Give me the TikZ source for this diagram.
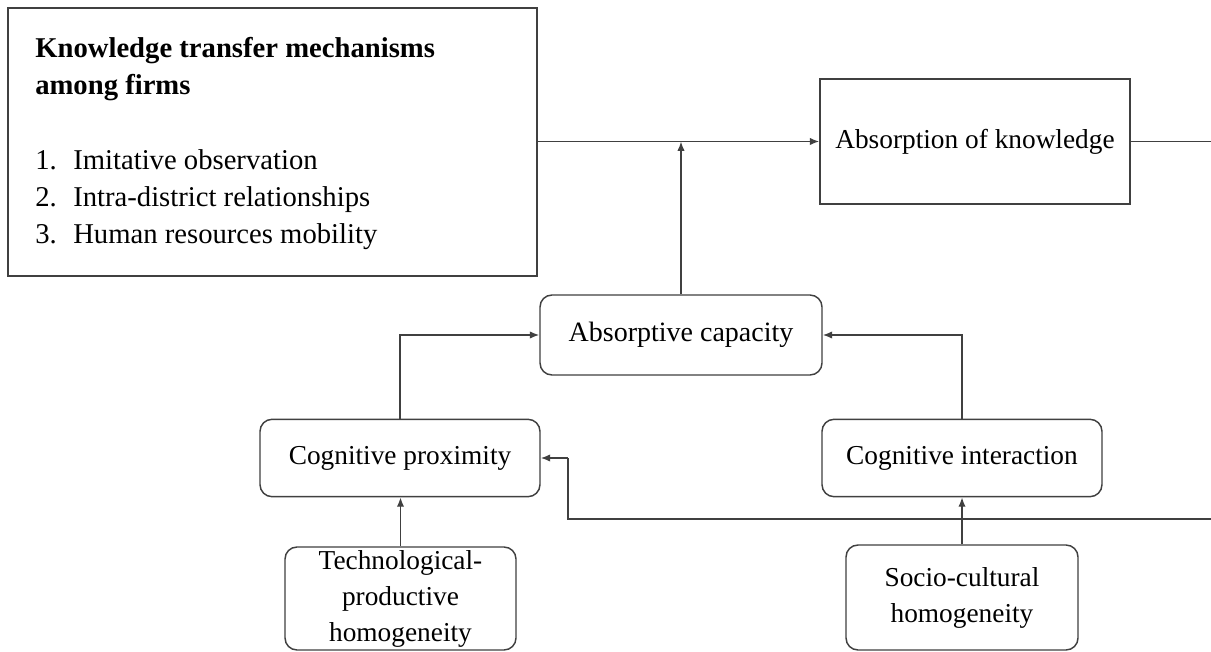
\documentclass[tikz,border=0pt]{standalone}
\usepackage{fontspec}
\setmainfont{LiberationSerif}[Extension=.ttf, UprightFont=*-Regular, BoldFont=*-Bold, ItalicFont=*-Italic, BoldItalicFont=*-BoldItalic]
\usetikzlibrary{arrows.meta}
\definecolor{linec}{HTML}{404040}
\tikzset{
  box/.style={draw=linec, line width=1.1pt, inner sep=0pt, align=center,
    font=\fontsize{20.5}{27}\selectfont},
  rbox/.style={box, rounded corners=9pt},
  conn/.style={draw=linec, line width=1.1pt},
  arr/.style={conn, -{Latex[length=7pt,width=5.5pt]}},
  txt/.style={inner sep=0pt, anchor=base west, font=\fontsize{21.5}{27}\selectfont},
  ttl/.style={txt, font=\fontsize{21.5}{27}\selectfont\bfseries},
}
\begin{document}
\begin{tikzpicture}[x=0.75pt,y=-0.75pt]
\useasboundingbox (0,0) rectangle (1211,652);
\clip (0,0) rectangle (1211,652);
\fill[white] (0,0) rectangle (1211,652);
% left box
\node[box, minimum width=396.75pt, minimum height=201pt] (km) at (272.5,142) {};
\node[ttl] (t1) at (35,58) {Knowledge transfer mechanisms};
\node[ttl] (t2) at (35,95) {among firms};
\node[txt] (n1) at (35,170) {1.};
\node[txt] (n2) at (35,207) {2.};
\node[txt] (n3) at (35,244) {3.};
\node[txt] (i1) at (73,170) {Imitative observation};
\node[txt] (i2) at (73,207) {Intra-district relationships};
\node[txt] (i3) at (73,244) {Human resources mobility};
% other nodes
\node[box, minimum width=232.5pt, minimum height=93.75pt] (ak) at (975,141.5) {Absorption of knowledge};
\node[rbox, minimum width=211.5pt, minimum height=60pt, font=\fontsize{21}{27}\selectfont] (ac) at (681,335) {Absorptive capacity};
\node[rbox, minimum width=210pt, minimum height=58pt] (cp) at (400,458) {Cognitive proximity};
\node[rbox, minimum width=210pt, minimum height=58pt] (ci) at (962,458) {Cognitive interaction};
\node[rbox, minimum width=173.25pt, minimum height=77.25pt] (tp) at (400.5,598.5) {Technological-\\productive\\homogeneity};
\node[rbox, minimum width=174pt, minimum height=78.75pt] (sc) at (962,597.5) {Socio-cultural\\homogeneity};
% connectors
\coordinate (j) at (681,141.5);
\coordinate (r1) at (1215,141.5);
\coordinate (r2) at (1215,519);
\coordinate (r3) at (568,519);
\coordinate (r4) at (568,458);
\draw[arr] (km.east |- ak.west) -- (ak.west);
\draw[arr] (ac.north) -- (j);
\draw[conn] (ak.east) -- (r1) -- (r2) -- (r3) -- (r4);
\draw[arr] (r4) -- (cp.east);
\draw[arr] (cp.north) |- (ac.west);
\draw[arr] (ci.north) |- (ac.east);
\draw[arr] (tp.north) -- (tp.north |- cp.south);
\draw[arr] (sc.north) -- (ci.south);
\end{tikzpicture}
\end{document}
